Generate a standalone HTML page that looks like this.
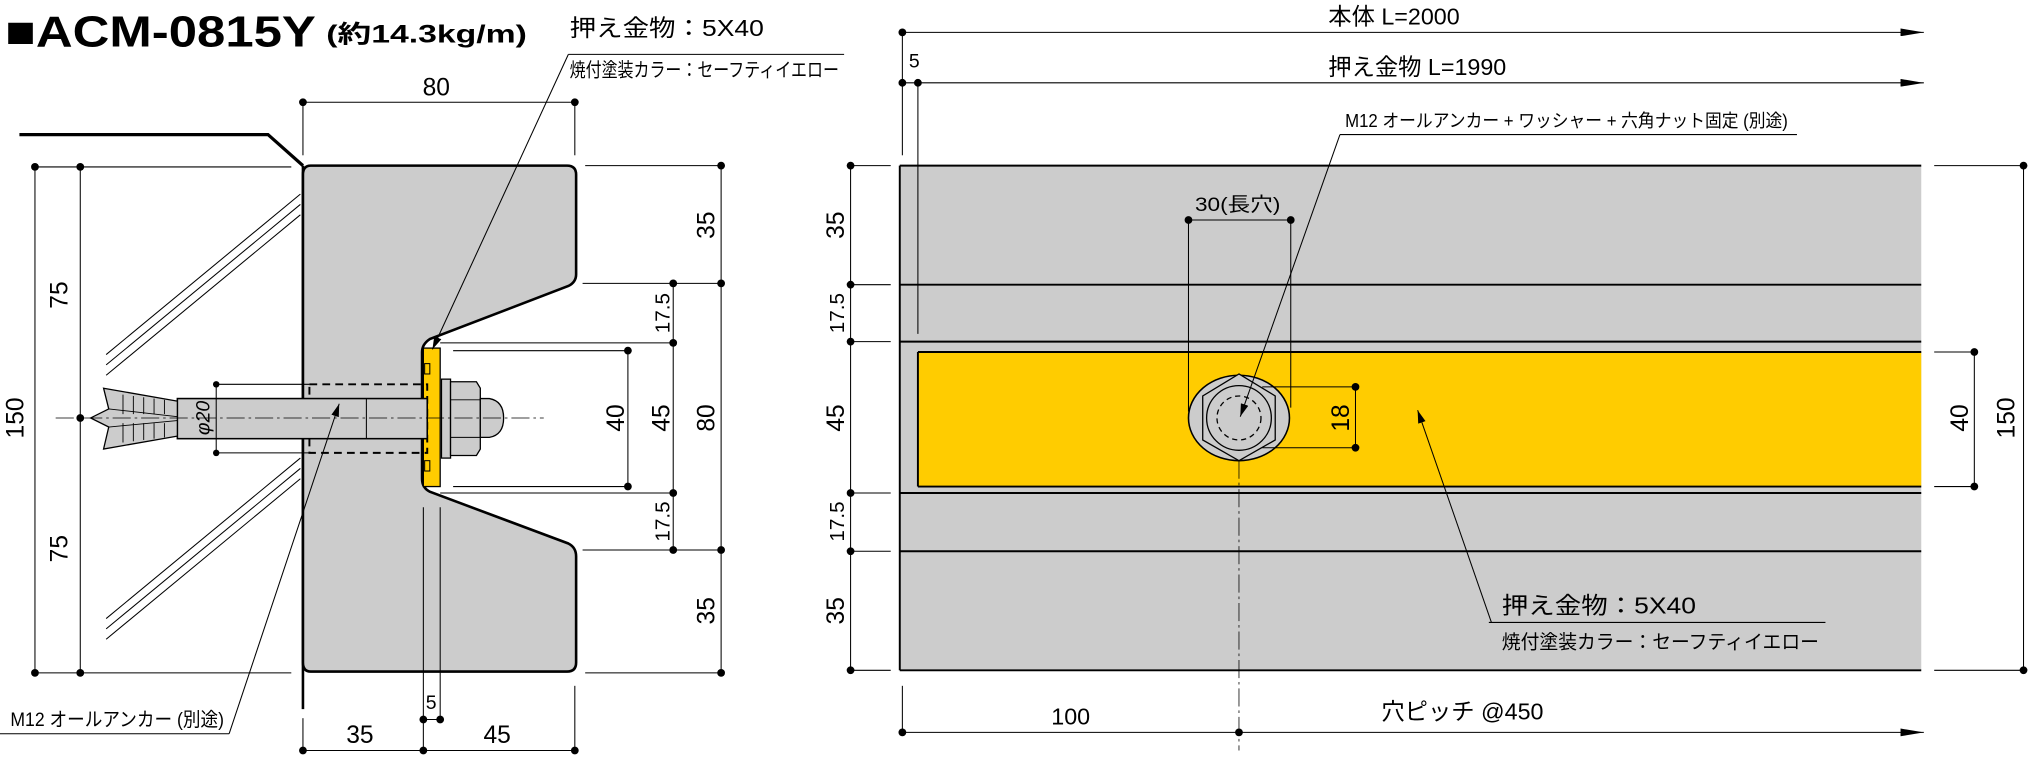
<!DOCTYPE html>
<html><head><meta charset="utf-8"><style>
html,body{margin:0;padding:0;background:#fff;}
svg{display:block;}
text{font-family:"Liberation Sans","Noto Sans CJK JP",sans-serif;fill:#000;}
</style></head><body>
<svg width="2030" height="757" viewBox="0 0 1568 585" preserveAspectRatio="none" xmlns="http://www.w3.org/2000/svg">
<defs>
<marker id="ar" markerWidth="10" markerHeight="6" refX="10" refY="3" orient="auto" markerUnits="userSpaceOnUse"><path d="M0,0 L10,3 L0,6 z" fill="#000"/></marker>
<marker id="ar2" markerWidth="18" markerHeight="6" refX="18" refY="3" orient="auto" markerUnits="userSpaceOnUse"><path d="M0,0 L18,3 L0,6 z" fill="#000"/></marker>
</defs>

<!-- Title -->
<text x="4" y="36" font-size="34" font-weight="bold" textLength="240" lengthAdjust="spacingAndGlyphs">■ACM-0815Y</text>
<text x="252" y="33" font-size="19" font-weight="bold" textLength="155" lengthAdjust="spacingAndGlyphs">(約14.3kg/m)</text>
<text x="440" y="28" font-size="18" textLength="150" lengthAdjust="spacingAndGlyphs">押え金物：5X40</text>
<line x1="439" y1="42" x2="652" y2="42" stroke="#000" stroke-width="0.8"/>
<text x="440" y="59" font-size="15" textLength="208" lengthAdjust="spacingAndGlyphs">焼付塗装カラー：セーフティイエロー</text>

<!-- wall -->
<polyline points="15,104 207,104 234,128" fill="none" stroke="#000" stroke-width="2.5"/>
<line x1="234" y1="128" x2="234" y2="548" stroke="#000" stroke-width="2"/>
<g stroke="#000" stroke-width="0.8">
<line x1="82" y1="274" x2="232" y2="150"/><line x1="82" y1="282" x2="232" y2="158"/><line x1="82" y1="290" x2="232" y2="166"/>
<line x1="82" y1="478" x2="232" y2="354"/><line x1="82" y1="486" x2="232" y2="362"/><line x1="82" y1="494" x2="232" y2="370"/>
</g>

<!-- profile -->
<path d="M240,128 L438,128 Q445,128 445,135 L445,212 Q445,218 439,221 L332,262 Q326,266 326,272 L326,370 Q326,377 332,380 L439,420 Q445,423 445,430 L445,512 Q445,519 438,519 L240,519 Q234,519 234,512 L234,135 Q234,128 240,128 Z" fill="#cccccc" stroke="#000" stroke-width="2"/>
<!-- plate -->
<rect x="327" y="269" width="13" height="107" fill="#ffcc00" stroke="#000" stroke-width="1"/>
<rect x="328" y="281" width="4" height="8" fill="#ffcc00" stroke="#000" stroke-width="0.8"/>
<rect x="328" y="356" width="4" height="8" fill="#ffcc00" stroke="#000" stroke-width="0.8"/>
<!-- hole dashed -->
<rect x="239" y="297" width="91" height="53" fill="none" stroke="#000" stroke-width="1.5" stroke-dasharray="6,4"/>
<!-- bolt -->
<rect x="137" y="308" width="193" height="31" fill="#cccccc" stroke="#000" stroke-width="1.2"/>
<line x1="283" y1="308" x2="283" y2="339" stroke="#000" stroke-width="0.8"/>
<path d="M80,300 L137,310 L137,337 L80,347 L84,330 L70,323 L84,316 Z" fill="#cccccc" stroke="#000" stroke-width="1"/>
<g stroke="#000" stroke-width="0.7"><line x1="95" y1="305" x2="95" y2="320"/><line x1="103" y1="306" x2="103" y2="320"/><line x1="111" y1="307" x2="111" y2="320"/><line x1="119" y1="308" x2="119" y2="320"/><line x1="127" y1="309" x2="127" y2="320"/>
<line x1="95" y1="327" x2="95" y2="342"/><line x1="103" y1="327" x2="103" y2="341"/><line x1="111" y1="327" x2="111" y2="340"/><line x1="119" y1="327" x2="119" y2="339"/><line x1="127" y1="327" x2="127" y2="338"/>
<polyline points="84,316 137,322" fill="none"/><polyline points="84,330 137,325" fill="none"/></g>
<!-- washer nut cap -->
<rect x="341" y="293" width="7" height="61" fill="#cccccc" stroke="#000" stroke-width="1"/>
<path d="M348,295 L368,295 L371,300 L371,347 L368,352 L348,352 Z" fill="#cccccc" stroke="#000" stroke-width="1"/>
<line x1="348" y1="309" x2="371" y2="309" stroke="#000" stroke-width="0.7"/>
<line x1="348" y1="338" x2="371" y2="338" stroke="#000" stroke-width="0.7"/>
<path d="M371,308 L378,308 Q389,310 389,323 Q389,336 378,338 L371,338 Z" fill="#cccccc" stroke="#000" stroke-width="1"/>
<line x1="43" y1="323" x2="420" y2="323" stroke="#000" stroke-width="0.6" stroke-dasharray="14,3,2,3"/>

<!-- leader to plate (on top) -->
<line x1="439" y1="42" x2="334" y2="270" stroke="#000" stroke-width="0.8" marker-end="url(#ar)"/>

<!-- phi20 dim -->
<g stroke="#000" stroke-width="0.8"><line x1="167" y1="297" x2="239" y2="297"/><line x1="167" y1="350" x2="239" y2="350"/><line x1="167" y1="297" x2="167" y2="350"/></g>
<circle cx="167" cy="297" r="2.5"/><circle cx="167" cy="350" r="2.5"/>
<text transform="translate(162,323) rotate(-90)" text-anchor="middle" font-size="15" font-style="italic">φ20</text>

<!-- left dims -->
<g stroke="#000" stroke-width="0.8">
<line x1="27" y1="129" x2="27" y2="520"/><line x1="62" y1="129" x2="62" y2="520"/>
<line x1="27" y1="129" x2="225" y2="129"/><line x1="27" y1="520" x2="225" y2="520"/>
</g>
<g><circle cx="27" cy="129" r="3"/><circle cx="62" cy="129" r="3"/><circle cx="27" cy="520" r="3"/><circle cx="62" cy="520" r="3"/><circle cx="62" cy="323" r="3"/></g>
<g font-size="19" text-anchor="middle">
<text transform="translate(52,228) rotate(-90)">75</text>
<text transform="translate(52,424) rotate(-90)">75</text>
<text transform="translate(18,323) rotate(-90)">150</text>
</g>

<!-- top 80 -->
<g stroke="#000" stroke-width="0.8"><line x1="234" y1="79" x2="444" y2="79"/><line x1="234" y1="79" x2="234" y2="120"/><line x1="444" y1="79" x2="444" y2="120"/></g>
<circle cx="234" cy="79" r="3"/><circle cx="444" cy="79" r="3"/>
<text x="337" y="74" font-size="19" text-anchor="middle">80</text>

<!-- right dims of section -->
<g stroke="#000" stroke-width="0.8">
<line x1="557" y1="128" x2="557" y2="520"/><line x1="520" y1="219" x2="520" y2="425"/><line x1="485" y1="271" x2="485" y2="376"/>
<line x1="452" y1="128" x2="557" y2="128"/><line x1="450" y1="219" x2="557" y2="219"/>
<line x1="340" y1="265" x2="520" y2="265"/><line x1="350" y1="271" x2="485" y2="271"/>
<line x1="350" y1="376" x2="485" y2="376"/><line x1="340" y1="381" x2="520" y2="381"/>
<line x1="450" y1="425" x2="557" y2="425"/><line x1="452" y1="520" x2="557" y2="520"/>
</g>
<g><circle cx="557" cy="128" r="3"/><circle cx="557" cy="219" r="3"/><circle cx="557" cy="425" r="3"/><circle cx="557" cy="520" r="3"/>
<circle cx="520" cy="219" r="3"/><circle cx="520" cy="265" r="3"/><circle cx="520" cy="381" r="3"/><circle cx="520" cy="425" r="3"/>
<circle cx="485" cy="271" r="3"/><circle cx="485" cy="376" r="3"/></g>
<g font-size="19" text-anchor="middle">
<text transform="translate(552,174) rotate(-90)">35</text>
<text transform="translate(517,242) rotate(-90)" font-size="16">17.5</text>
<text transform="translate(517,323) rotate(-90)">45</text>
<text transform="translate(482,323) rotate(-90)">40</text>
<text transform="translate(552,323) rotate(-90)">80</text>
<text transform="translate(517,403) rotate(-90)" font-size="16">17.5</text>
<text transform="translate(552,472) rotate(-90)">35</text>
</g>

<!-- bottom dims -->
<g stroke="#000" stroke-width="0.8">
<line x1="234" y1="580" x2="444" y2="580"/><line x1="234" y1="555" x2="234" y2="580"/><line x1="444" y1="530" x2="444" y2="580"/>
<line x1="327" y1="392" x2="327" y2="580"/><line x1="340" y1="392" x2="340" y2="556"/><line x1="327" y1="556" x2="340" y2="556"/>
</g>
<circle cx="234" cy="580" r="3"/><circle cx="327" cy="580" r="3"/><circle cx="444" cy="580" r="3"/><circle cx="327" cy="556" r="3"/><circle cx="340" cy="556" r="3"/>
<text x="278" y="574" font-size="19" text-anchor="middle">35</text>
<text x="384" y="574" font-size="19" text-anchor="middle">45</text>
<text x="333" y="548" font-size="15" text-anchor="middle">5</text>

<text x="8" y="561" font-size="15" textLength="165" lengthAdjust="spacingAndGlyphs">M12 オールアンカー (別途)</text>
<line x1="0" y1="567" x2="177" y2="567" stroke="#000" stroke-width="0.8"/>
<line x1="177" y1="567" x2="262" y2="312" stroke="#000" stroke-width="0.8" marker-end="url(#ar)"/>

<!-- ===== right view ===== -->
<rect x="695" y="128" width="789" height="390" fill="#cccccc"/>
<rect x="709" y="272" width="775" height="104" fill="#ffcc00"/>
<g stroke="#000" stroke-width="1.5">
<line x1="695" y1="128" x2="1484" y2="128"/><line x1="695" y1="518" x2="1484" y2="518"/>
<line x1="695" y1="220" x2="1484" y2="220"/><line x1="695" y1="264" x2="1484" y2="264"/>
<line x1="695" y1="381" x2="1484" y2="381"/><line x1="695" y1="426" x2="1484" y2="426"/>
<line x1="695" y1="128" x2="695" y2="518"/>
<line x1="709" y1="272" x2="1484" y2="272"/><line x1="709" y1="376" x2="1484" y2="376"/><line x1="709" y1="272" x2="709" y2="376"/>
</g>

<!-- top length dims -->
<g stroke="#000" stroke-width="0.8">
<line x1="697" y1="25" x2="1486" y2="25" marker-end="url(#ar2)"/>
<line x1="697" y1="64" x2="1486" y2="64" marker-end="url(#ar2)"/>
<line x1="697" y1="25" x2="697" y2="120"/><line x1="709" y1="64" x2="709" y2="258"/>
</g>
<circle cx="697" cy="25" r="3"/><circle cx="697" cy="64" r="3"/><circle cx="709" cy="64" r="3"/>
<text x="1026" y="19" font-size="18">本体 L=2000</text>
<text x="1026" y="58" font-size="18">押え金物 L=1990</text>
<text x="702" y="52" font-size="15">5</text>

<text x="1039" y="98" font-size="14" textLength="342" lengthAdjust="spacingAndGlyphs">M12 オールアンカー + ワッシャー + 六角ナット固定 (別途)</text>
<line x1="1035" y1="104" x2="1388" y2="104" stroke="#000" stroke-width="0.8"/>

<!-- bolt plan -->
<ellipse cx="957" cy="323" rx="39" ry="33" fill="#cccccc" stroke="#000" stroke-width="1.2"/>
<polygon points="957,289 985,306 985,340 957,356 929,340 929,306" fill="#cccccc" stroke="#000" stroke-width="1"/>
<circle cx="957" cy="323" r="25" fill="#cccccc" stroke="#000" stroke-width="1"/>
<circle cx="957" cy="323" r="17" fill="none" stroke="#000" stroke-width="1" stroke-dasharray="4,3"/>
<line x1="1035" y1="104" x2="958" y2="322" stroke="#000" stroke-width="0.8" marker-end="url(#ar)"/>
<line x1="957" y1="356" x2="957" y2="580" stroke="#000" stroke-width="0.6" stroke-dasharray="14,3,2,3"/>

<g stroke="#000" stroke-width="0.8">
<line x1="918" y1="170" x2="997" y2="170"/><line x1="918" y1="170" x2="918" y2="318"/><line x1="997" y1="170" x2="997" y2="315"/>
<line x1="975" y1="299" x2="1047" y2="299"/><line x1="975" y1="346" x2="1047" y2="346"/><line x1="1047" y1="299" x2="1047" y2="346"/>
</g>
<circle cx="918" cy="170" r="3"/><circle cx="997" cy="170" r="3"/><circle cx="1047" cy="299" r="3"/><circle cx="1047" cy="346" r="3"/>
<text x="956" y="163" font-size="15" text-anchor="middle" textLength="66" lengthAdjust="spacingAndGlyphs">30(長穴)</text>
<text transform="translate(1042,323) rotate(-90)" font-size="19" text-anchor="middle">18</text>

<!-- bottom pitch -->
<line x1="697" y1="566" x2="1486" y2="566" stroke="#000" stroke-width="0.8" marker-end="url(#ar2)"/>
<line x1="697" y1="530" x2="697" y2="566" stroke="#000" stroke-width="0.8"/>
<circle cx="697" cy="566" r="3"/><circle cx="957" cy="566" r="3"/>
<text x="812" y="560" font-size="18">100</text>
<text x="1067" y="556" font-size="18">穴ピッチ @450</text>

<!-- right side dims -->
<g stroke="#000" stroke-width="0.8">
<line x1="1563" y1="128" x2="1563" y2="518"/><line x1="1494" y1="128" x2="1563" y2="128"/><line x1="1494" y1="518" x2="1563" y2="518"/>
<line x1="1525" y1="272" x2="1525" y2="376"/><line x1="1494" y1="272" x2="1525" y2="272"/><line x1="1494" y1="376" x2="1525" y2="376"/>
</g>
<circle cx="1563" cy="128" r="3"/><circle cx="1563" cy="518" r="3"/><circle cx="1525" cy="272" r="3"/><circle cx="1525" cy="376" r="3"/>
<text transform="translate(1556,323) rotate(-90)" font-size="19" text-anchor="middle">150</text>
<text transform="translate(1520,323) rotate(-90)" font-size="19" text-anchor="middle">40</text>

<!-- left dims right view -->
<g stroke="#000" stroke-width="0.8">
<line x1="657" y1="128" x2="657" y2="518"/>
<line x1="657" y1="128" x2="688" y2="128"/><line x1="657" y1="220" x2="688" y2="220"/><line x1="657" y1="264" x2="688" y2="264"/>
<line x1="657" y1="381" x2="688" y2="381"/><line x1="657" y1="426" x2="688" y2="426"/><line x1="657" y1="518" x2="688" y2="518"/>
</g>
<circle cx="657" cy="128" r="3"/><circle cx="657" cy="220" r="3"/><circle cx="657" cy="264" r="3"/><circle cx="657" cy="381" r="3"/><circle cx="657" cy="426" r="3"/><circle cx="657" cy="518" r="3"/>
<g font-size="19" text-anchor="middle">
<text transform="translate(652,174) rotate(-90)">35</text>
<text transform="translate(652,242) rotate(-90)" font-size="16">17.5</text>
<text transform="translate(652,323) rotate(-90)">45</text>
<text transform="translate(652,403) rotate(-90)" font-size="16">17.5</text>
<text transform="translate(652,472) rotate(-90)">35</text>
</g>

<text x="1160" y="474" font-size="18" textLength="150" lengthAdjust="spacingAndGlyphs">押え金物：5X40</text>
<line x1="1150" y1="481" x2="1410" y2="481" stroke="#000" stroke-width="0.8"/>
<text x="1160" y="501" font-size="15" textLength="245" lengthAdjust="spacingAndGlyphs">焼付塗装カラー：セーフティイエロー</text>
<line x1="1152" y1="481" x2="1095" y2="317" stroke="#000" stroke-width="0.8" marker-end="url(#ar)"/>
</svg>
</body></html>
